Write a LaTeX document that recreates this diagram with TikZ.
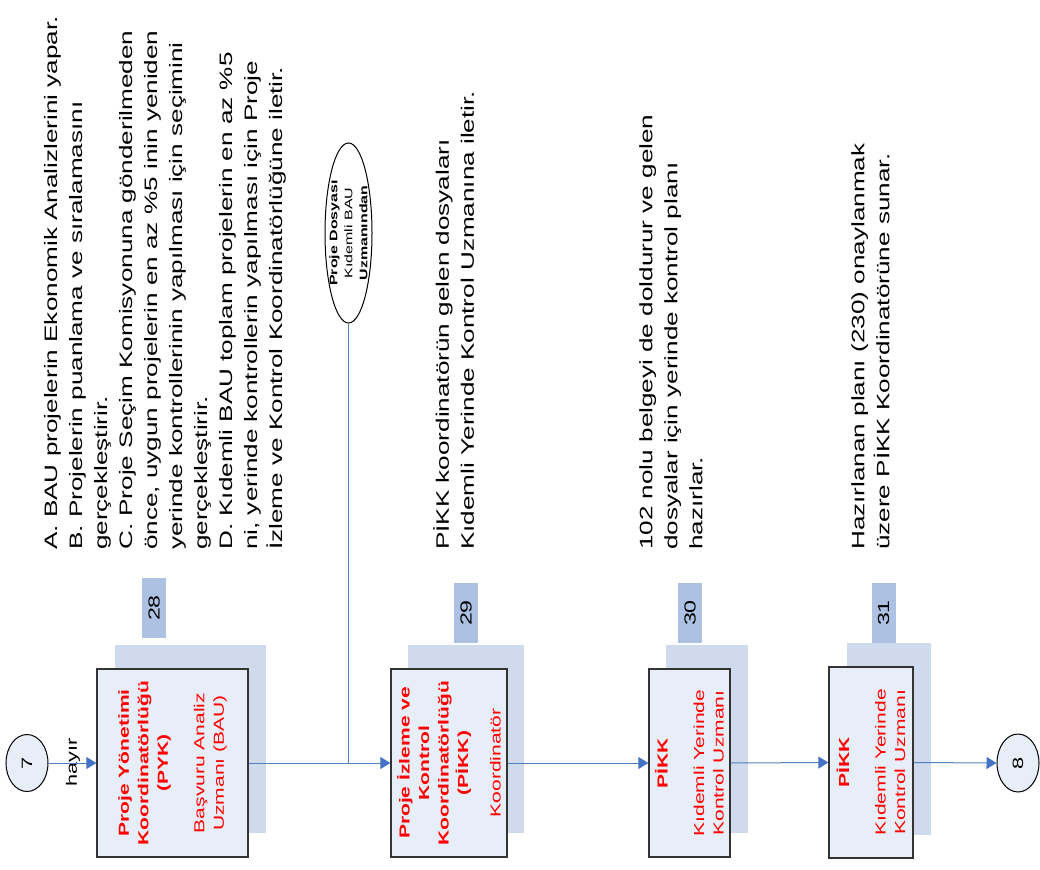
\documentclass[tikz,border=0pt]{standalone}
\usepackage{fontspec}
\setmainfont{Liberation Sans}[FakeStretch=1.45]
\usetikzlibrary{arrows.meta,shapes.geometric}
\definecolor{conn}{RGB}{79,129,189}
\definecolor{arrowc}{RGB}{68,114,196}
\definecolor{boxfill}{RGB}{232,238,247}
\definecolor{shadowc}{RGB}{207,218,236}
\definecolor{tagc}{RGB}{173,194,226}
\definecolor{boxline}{RGB}{51,51,51}
\definecolor{redtext}{RGB}{255,0,0}
\begin{document}
\begin{tikzpicture}[x=1pt,y=-1pt,
  procbox/.style={draw=boxline, line width=1.3pt, fill=boxfill, inner sep=0pt},
  shadowbox/.style={fill=shadowc, inner sep=0pt},
  tagbox/.style={fill=tagc, rotate=90, inner sep=0pt, minimum width=60pt, minimum height=24pt, font=\fontsize{16}{18}\selectfont},
  blocktext/.style={rotate=90, align=left, inner sep=0pt, anchor=north west, font=\fontsize{18}{25}\selectfont},
  boxtext/.style={rotate=90, align=center, inner sep=0pt, text=redtext, font=\fontsize{14.5}{19.5}\selectfont},
  connector/.style={draw=conn, line width=1pt},
  arrowline/.style={connector, -{Triangle[length=10pt,width=12pt,color=arrowc]}},
  connellipse/.style={ellipse, draw=black, line width=1pt, inner sep=0pt}
]
\useasboundingbox (0,0) rectangle (1040,869);

% shadows
\node[shadowbox, minimum width=151pt, minimum height=188pt] (s1) at (190.5,739) {};
\node[shadowbox, minimum width=116pt, minimum height=188pt] (s2) at (466,739) {};
\node[shadowbox, minimum width=82pt, minimum height=188pt] (s3) at (707,739) {};
\node[shadowbox, minimum width=84pt, minimum height=192pt] (s4) at (889,739) {};

% tags
\node[tagbox] (t1) at (154,608) {28};
\node[tagbox] (t2) at (466,613) {29};
\node[tagbox] (t3) at (690,613) {30};
\node[tagbox] (t4) at (883.5,613) {31};

% process boxes
\node[procbox, minimum width=151pt, minimum height=188pt] (b1) at (172.5,763) {};
\node[procbox, minimum width=116pt, minimum height=188pt] (b2) at (449,763) {};
\node[procbox, minimum width=81pt, minimum height=188pt] (b3) at (689.5,763) {};
\node[procbox, minimum width=84pt, minimum height=191pt] (b4) at (871,762.5) {};

\node[boxtext] (bt1) at (b1.center) {\textbf{Proje Yönetimi}\\ \textbf{Koordinatörlüğü}\\ \textbf{(PYK)}\\[17pt] Başvuru Analiz\\ Uzmanı (BAU)};
\node[boxtext] (bt2) at (b2.center) {\textbf{Proje İzleme ve}\\ \textbf{Kontrol}\\ \textbf{Koordinatörlüğü}\\ \textbf{(PİKK)}\\[13pt] Koordinatör};
\node[boxtext] (bt3) at (b3.center) {\textbf{PİKK}\\[17pt] Kıdemli Yerinde\\ Kontrol Uzmanı};
\node[boxtext] (bt4) at (b4.center) {\textbf{PİKK}\\[17pt] Kıdemli Yerinde\\ Kontrol Uzmanı};

% connector circles
\node[connellipse, fill=boxfill, minimum width=42pt, minimum height=57pt] (c7) at (27,763) {};
\node[rotate=90, font=\fontsize{15}{18}\selectfont] (c7t) at (c7.center) {7};
\node[connellipse, fill=boxfill, minimum width=42pt, minimum height=58pt] (c8) at (1018,763) {};
\node[rotate=90, font=\fontsize{15}{18}\selectfont] (c8t) at (c8.center) {8};

% top ellipse
\node[connellipse, fill=white, minimum width=47pt, minimum height=180pt] (e) at (348.5,233) {};
\node[rotate=90, align=center, inner sep=0pt, font=\fontsize{11}{15}\selectfont] (et) at (e.center) {\textbf{Proje Dosyası}\\ Kıdemli BAU\\ \textbf{Uzmanından}};

% label
\node[rotate=90, inner sep=0pt, font=\fontsize{15}{18}\selectfont] (hayir) at (73,762) {hayır};

% description blocks
\node[blocktext] (d1) at (44,550) {A. BAU projelerin Ekonomik Analizlerini yapar.\\
B. Projelerin puanlama ve sıralamasını\\
gerçekleştirir.\\
C. Proje Seçim Komisyonuna gönderilmeden\\
önce, uygun projelerin en az \%5 inin yeniden\\
yerinde kontrollerinin yapılması için seçimini\\
gerçekleştirir.\\
D. Kıdemli BAU toplam projelerin en az \%5\\
ni, yerinde kontrollerin yapılması için Proje\\
İzleme ve Kontrol Koordinatörlüğüne iletir.};
\node[blocktext] (d2) at (433,550) {PİKK koordinatörün gelen dosyaları\\
Kıdemli Yerinde Kontrol Uzmanına iletir.};
\node[blocktext] (d3) at (639,550) {102 nolu belgeyi de doldurur ve gelen\\
dosyalar için yerinde kontrol planı\\
hazırlar.};
\node[blocktext] (d4) at (851,550) {Hazırlanan planı (230) onaylanmak\\
üzere PİKK Koordinatörüne sunar.};

% connectors
\draw[arrowline] (c7.east) -- (b1.west);
\draw[arrowline] (b1.east) -- (b2.west);
\draw[arrowline] (b2.east) -- (b3.west);
\draw[arrowline] (b3.east) -- (b4.west);
\draw[arrowline] (b4.east) -- (c8.west);
\draw[connector] (e.south) -- (e.south |- b1.east);
\end{tikzpicture}
\end{document}
